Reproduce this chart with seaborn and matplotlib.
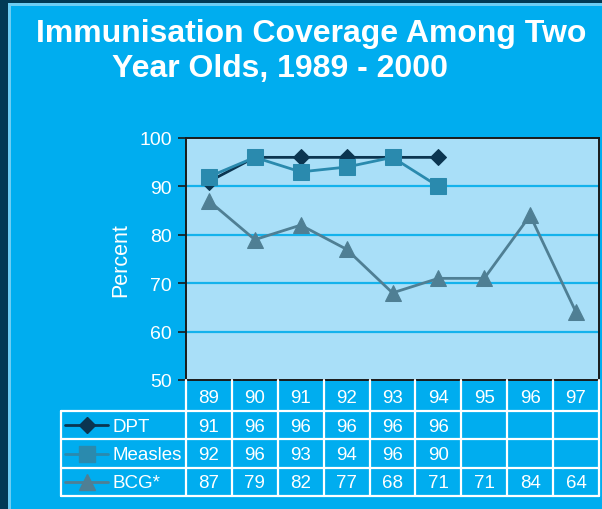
import matplotlib
matplotlib.use("Agg")
import matplotlib.pyplot as plt
from matplotlib.patches import Rectangle
from matplotlib.lines import Line2D
import numpy as np
import pandas as pd
import seaborn as sns

# ---- data -------------------------------------------------------------
years = ["89", "90", "91", "92", "93", "94", "95", "96", "97"]
dpt = [91, 96, 96, 96, 96, 96, None, None, None]
measles = [92, 96, 93, 94, 96, 90, None, None, None]
bcg = [87, 79, 82, 77, 68, 71, 71, 84, 64]
series_names = ["DPT", "Measles", "BCG*"]
series_values = [dpt, measles, bcg]

title_line1 = "Immunisation Coverage Among Two"
title_line2 = "Year Olds, 1989 - 2000"
y_label = "Percent"
y_ticks = [50, 60, 70, 80, 90, 100]

# ---- styling ----------------------------------------------------------
sns.set_theme(style="white")
plt.rcParams["font.family"] = ["Liberation Sans", "DejaVu Sans"]

BG_DARK = "#013a55"
BG_EDGE = "#6ccdf3"
BG_MAIN = "#00adef"
PLOT_BG = "#a9dff8"
GRID = "#14b2ec"
colors = ["#0b3550", "#2a8aae", "#4f7f94"]
markers = ["D", "s", "^"]
msizes = [8, 11.5, 12]

W, H = 602, 510
fig = plt.figure(figsize=(W / 100, H / 100), dpi=100)
fig.patch.set_facecolor(BG_DARK)

def fx(px):
    return px / W

def fy(py):
    return 1 - py / H

# slide panel: light edge and blue fill
fig.add_artist(Rectangle((fx(8), 0), 1, fy(4), transform=fig.transFigure,
                         facecolor=BG_EDGE, edgecolor="none", zorder=0))
fig.add_artist(Rectangle((fx(11), 0), 1, fy(7), transform=fig.transFigure,
                         facecolor=BG_MAIN, edgecolor="none", zorder=0))

# title
fig.text(fx(311), fy(34), title_line1, ha="center", va="center",
         color="white", fontsize=23, fontweight="bold")
fig.text(fx(280), fy(69), title_line2, ha="center", va="center",
         color="white", fontsize=23, fontweight="bold")

# ---- chart ------------------------------------------------------------
ax_l, ax_r, ax_t, ax_b = 186, 599, 139, 381
ax = fig.add_axes([fx(ax_l), fy(ax_b), fx(ax_r - ax_l), (ax_b - ax_t) / H])
ax.set_facecolor(PLOT_BG)

x_idx = np.arange(len(years))
for name, vals, c, m, ms in zip(series_names, series_values, colors, markers, msizes):
    df = pd.DataFrame({"x": x_idx, "y": pd.array(vals, dtype="Float64")}).dropna()
    sns.lineplot(data=df, x="x", y="y", ax=ax, color=c, marker=m,
                 markersize=ms, markeredgecolor=c, linewidth=2, zorder=3)

ax.set_xlim(-0.5, len(years) - 0.5)
ax.set_ylim(50, 100)
ax.set_yticks(y_ticks)
ax.set_yticklabels([str(t) for t in y_ticks], color="white", fontsize=14)
ax.set_xticks([])
ax.set_xlabel("")
ax.set_ylabel(y_label, color="white", fontsize=15.5, labelpad=6)
ax.tick_params(axis="y", left=True, length=6, width=1.2, color="#1a1a1a", pad=4)
for t in y_ticks[1:-1]:
    ax.axhline(t, color=GRID, linewidth=1.6, zorder=1)
for sp in ax.spines.values():
    sp.set_color("#1a1a1a")
    sp.set_linewidth(1.4)

# ---- data table -------------------------------------------------------
tb_l = 61
unit = (ax_r - ax_l) / len(years)
row_edges = [381, 412, 440, 469, 497]
tab = fig.add_axes([fx(tb_l), fy(row_edges[-1]), fx(ax_r - tb_l),
                    (row_edges[-1] - row_edges[0]) / H])
tab.set_xlim(-0.5 - (ax_l - tb_l) / unit, len(years) - 0.5)
tab.set_ylim(row_edges[-1], row_edges[0])
tab.axis("off")
tab.patch.set_alpha(0)

lw = 1.6
lc = "white"
x_left = tab.get_xlim()[0]
x_right = len(years) - 0.5
# horizontal rules
for yy in row_edges[1:]:
    tab.plot([x_left, x_right], [yy, yy], color=lc, lw=lw, clip_on=False)
# vertical rules
tab.plot([x_left, x_left], [row_edges[1], row_edges[-1]], color=lc, lw=lw, clip_on=False)
for i in range(len(years) + 1):
    xb = i - 0.5
    tab.plot([xb, xb], [row_edges[0], row_edges[-1]], color=lc, lw=lw, clip_on=False)

fs_tab = 13.5
centers = [(row_edges[k] + row_edges[k + 1]) / 2 for k in range(4)]
for i, yr in enumerate(years):
    tab.text(i, centers[0] + 2, yr, ha="center", va="center", color="white", fontsize=fs_tab)

px2x = 1 / unit
for r, (name, vals, c, m, ms) in enumerate(zip(series_names, series_values, colors, markers, msizes)):
    yc = centers[r + 1]
    x0 = x_left + (65 - tb_l) * px2x
    x1 = x_left + (108 - tb_l) * px2x
    xm = x_left + (87 - tb_l) * px2x
    tab.add_line(Line2D([x0, x1], [yc, yc], color=c, lw=2))
    tab.add_line(Line2D([xm], [yc], marker=m, markersize=ms, color=c,
                        markeredgecolor=c, linestyle="none"))
    tab.text(x_left + (112 - tb_l) * px2x, yc + 1, name, ha="left", va="center",
             color="white", fontsize=fs_tab)
    for i, v in enumerate(vals):
        if v is not None:
            tab.text(i, yc + 1, str(v), ha="center", va="center",
                     color="white", fontsize=fs_tab)

fig.savefig("out.png", dpi=100, facecolor=fig.get_facecolor())
